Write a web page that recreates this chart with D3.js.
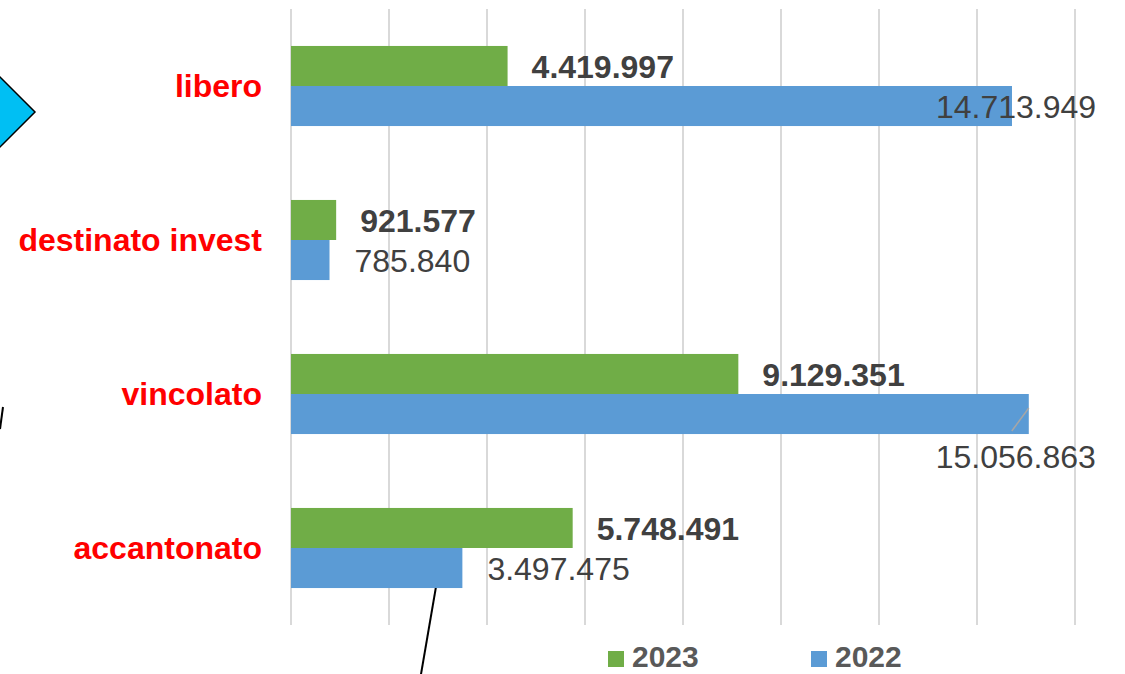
<!DOCTYPE html>
<html>
<head>
<meta charset="utf-8">
<script src="https://cdn.jsdelivr.net/npm/d3@7"></script>
<style>
  body { margin: 0; background: #fff; }
  svg { display: block; font-family: "Liberation Sans", Arial, sans-serif; }
</style>
</head>
<body>
<div id="chart"></div>
<script>
const categories = ["libero", "destinato invest", "vincolato", "accantonato"]
const values2023 = [4419997, 921577, 9129351, 5748491]
const values2022 = [14713949, 785840, 15056863, 3497475]
const seriesNames = ["2023", "2022"]
const xTicks = [0, 2e6, 4e6, 6e6, 8e6, 10e6, 12e6, 14e6, 16e6]

const width = 1125
const height = 674
const green = "#70ad47"
const blue = "#5b9bd5"

const fmt = v => d3.format(",")(v).replace(/,/g, ".")

const svg = d3.select("#chart").append("svg")
  .attr("width", width)
  .attr("height", height)

const x = d3.scaleLinear().domain([0, 16e6]).range([291, 1075])
const y = d3.scaleBand().domain(categories).range([9, 625])
  .paddingInner(0.48).paddingOuter(0.24)
const bh = y.bandwidth() / 2

// gridlines
svg.append("g").selectAll("line")
  .data(xTicks)
  .join("line")
  .attr("x1", d => x(d)).attr("x2", d => x(d))
  .attr("y1", 9).attr("y2", 625)
  .attr("stroke", "#d9d9d9")
  .attr("stroke-width", 2)

// stray decorations from the slide
svg.append("path")
  .attr("d", "M-35,112 L0,77 L35,112 L0,147 Z")
  .attr("fill", "#00bff3")
  .attr("stroke", "#000")
  .attr("stroke-width", 1.5)
svg.append("line")
  .attr("x1", 3).attr("y1", 407).attr("x2", 0).attr("y2", 429)
  .attr("stroke", "#000").attr("stroke-width", 2)
svg.append("line")
  .attr("x1", 443).attr("y1", 546).attr("x2", 420).attr("y2", 680)
  .attr("stroke", "#000").attr("stroke-width", 2)

// bars
svg.append("g").selectAll("rect")
  .data(categories)
  .join("rect")
  .attr("x", x(0))
  .attr("y", d => y(d))
  .attr("width", (d, i) => x(values2023[i]) - x(0))
  .attr("height", bh)
  .attr("fill", green)

svg.append("g").selectAll("rect")
  .data(categories)
  .join("rect")
  .attr("x", x(0))
  .attr("y", d => y(d) + bh)
  .attr("width", (d, i) => x(values2022[i]) - x(0))
  .attr("height", bh)
  .attr("fill", blue)

// category labels
svg.append("g").selectAll("text")
  .data(categories)
  .join("text")
  .attr("x", 262)
  .attr("y", d => y(d) + bh)
  .attr("dy", "0.35em")
  .attr("text-anchor", "end")
  .attr("fill", "#ff0000")
  .style("font-size", "32px")
  .style("font-weight", "bold")
  .text(d => d)

// 2023 value labels
svg.append("g").selectAll("text")
  .data(categories)
  .join("text")
  .attr("x", (d, i) => x(values2023[i]) + 24)
  .attr("y", d => y(d) + bh / 2 + 1)
  .attr("dy", "0.35em")
  .attr("fill", "#404040")
  .style("font-size", "32px")
  .style("font-weight", "bold")
  .text((d, i) => fmt(values2023[i]))

// 2022 value labels (some moved like in the original)
const leader = svg.append("g")
svg.append("g").selectAll("text")
  .data(categories)
  .join("text")
  .each(function (d, i) {
    const t = d3.select(this)
    const end = x(values2022[i])
    const cy = y(d) + bh * 1.5
    if (d === "libero") {
      t.attr("x", end + 4).attr("y", cy + 1).attr("text-anchor", "middle")
    } else if (d === "vincolato") {
      t.attr("x", end - 13).attr("y", cy + 43).attr("text-anchor", "middle")
      leader.append("line")
        .attr("x1", end).attr("y1", cy - 6)
        .attr("x2", end - 17).attr("y2", cy + 17)
        .attr("stroke", "#a6a6a6").attr("stroke-width", 1.5)
    } else {
      t.attr("x", end + 25).attr("y", cy + 1).attr("text-anchor", "start")
    }
  })
  .attr("dy", "0.35em")
  .attr("fill", "#404040")
  .style("font-size", "32px")
  .text((d, i) => fmt(values2022[i]))

// legend
const legend = svg.append("g")
const legendX = [608, 811]
const colors = [green, blue]
seriesNames.forEach((s, i) => {
  legend.append("rect")
    .attr("x", legendX[i]).attr("y", 651)
    .attr("width", 16).attr("height", 16)
    .attr("fill", colors[i])
  legend.append("text")
    .attr("x", legendX[i] + 24).attr("y", 667)
    .attr("fill", "#595959")
    .style("font-size", "30px")
    .style("font-weight", "bold")
    .text(s)
})
</script>
</body>
</html>
